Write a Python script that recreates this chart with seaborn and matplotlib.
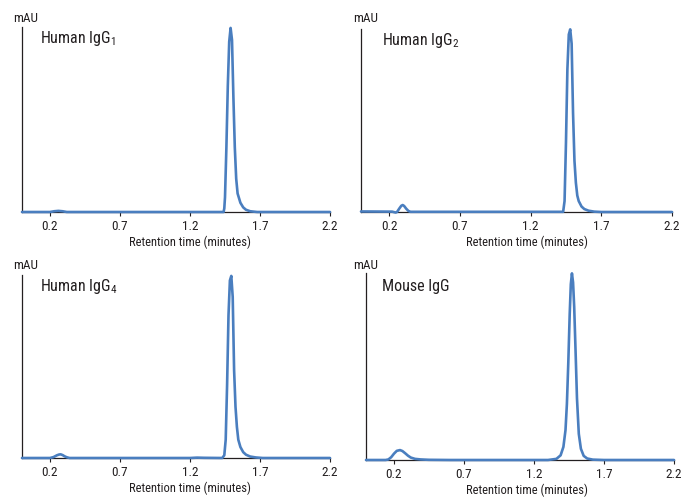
import numpy as np
import pandas as pd
import matplotlib
matplotlib.use("Agg")
import matplotlib.pyplot as plt
from matplotlib import font_manager
import seaborn as sns

# ---------------- data ----------------
titles = ["Human IgG$_1$", "Human IgG$_2$", "Human IgG$_4$", "Mouse IgG"]
tick_values = [0.2, 0.7, 1.2, 1.7, 2.2]
tick_labels = ["0.2", "0.7", "1.2", "1.7", "2.2"]

t_igg1 = [0.00, 0.20, 0.23, 0.26, 0.29, 0.32, 1.40, 1.44, 1.445, 1.45, 1.46, 1.47, 1.48,
          1.49, 1.50, 1.51, 1.52, 1.53, 1.54, 1.56, 1.58, 1.60, 1.63, 1.68, 2.20]
y_igg1 = [0.0, 0.0, 0.4, 0.6, 0.4, 0.0, 0.0, 0.0, 2.0, 8, 35, 68, 92,
          99.5, 93, 62, 35, 18, 10, 5, 2.5, 1.2, 0.4, 0.0, 0.0]

t_igg2 = [0.00, 0.22, 0.245, 0.255, 0.27, 0.285, 0.295, 0.305, 0.32, 0.335, 0.35, 1.40,
          1.43, 1.44, 1.45, 1.46, 1.47, 1.48, 1.49, 1.50, 1.51, 1.52, 1.53, 1.54, 1.56,
          1.58, 1.61, 1.65, 1.70, 2.20]
y_igg2 = [0.3, 0.2, -0.3, 0.0, 1.8, 3.4, 3.8, 3.3, 1.8, 0.6, 0.1, 0.1,
          0.1, 6, 38, 78, 97, 99.8, 92, 54, 28, 16, 9, 6, 3,
          1.6, 0.7, 0.2, 0.0, 0.0]

t_igg4 = [0.00, 0.20, 0.225, 0.25, 0.265, 0.276, 0.29, 0.305, 0.32, 0.34, 1.20, 1.25, 1.30,
          1.43, 1.445, 1.455, 1.465, 1.475, 1.485, 1.495, 1.505, 1.515, 1.525, 1.535,
          1.545, 1.56, 1.58, 1.60, 1.63, 1.67, 1.72, 2.20]
y_igg4 = [0.0, 0.0, 0.5, 1.5, 1.9, 2.0, 1.6, 0.9, 0.4, 0.0, 0.0, 0.2, 0.1,
          0.0, 1.5, 10, 40, 78, 97, 99.5, 88, 48, 28, 17,
          10, 6, 3.2, 1.8, 0.8, 0.3, 0.0, 0.0]

t_mouse = [0.00, 0.14, 0.16, 0.18, 0.20, 0.22, 0.243, 0.26, 0.28, 0.30, 0.32, 0.35, 0.39,
           0.45, 0.60, 1.30, 1.36, 1.39, 1.41, 1.425, 1.435, 1.445, 1.455, 1.463, 1.471,
           1.479, 1.487, 1.497, 1.507, 1.52, 1.535, 1.555, 1.58, 1.62, 1.70, 2.20]
y_mouse = [0.0, 0.0, 0.3, 1.5, 3.4, 4.9, 5.3, 4.8, 3.6, 2.3, 1.3, 0.6, 0.3,
           0.1, 0.0, 0.0, 0.6, 2.5, 7, 16, 30, 52, 78, 94, 99.8,
           95, 82, 58, 33, 14, 6, 2.2, 0.8, 0.2, 0.0, 0.0]

series_t = [t_igg1, t_igg2, t_igg4, t_mouse]
series_y = [y_igg1, y_igg2, y_igg4, y_mouse]

# ---------------- styling ----------------
sns.set_style("white")
available = {f.name for f in font_manager.fontManager.ttflist}
fam = None
for cand in ["Liberation Sans Narrow", "Roboto Condensed", "Open Sans Condensed",
             "DejaVu Sans Condensed", "Roboto", "Liberation Sans"]:
    if cand in available:
        fam = cand
        break
fams = [fam, "DejaVu Sans"] if fam else ["DejaVu Sans"]
plt.rcParams["font.family"] = fams
plt.rcParams["mathtext.fontset"] = "custom"
plt.rcParams["mathtext.rm"] = fams[0]
plt.rcParams["mathtext.it"] = fams[0]
plt.rcParams["mathtext.default"] = "rm"

LINE = "#4a7ebf"
TXT = "#231f20"
W, H = 693, 498
fig = plt.figure(figsize=(W / 100, H / 100), dpi=100)

# axes boxes in pixels: left, right, top, bottom
boxes = [(22, 330, 27, 212), (361, 672, 29, 212), (22, 330, 275, 458), (366, 674, 273, 460)]
xlabel_frac = [0.545, 0.534, 0.545, 0.521]
title_pos = [(40, 36), (381.5, 38), (40, 283.5), (381.5, 285)]
mau_pos = [(25.5, 16.5), (366, 16.5), (25.5, 263.5), (366, 264)]

for i in range(4):
    l, r, t, b = boxes[i]
    ax = fig.add_axes([l / W, 1 - b / H, (r - l) / W, (b - t) / H])
    df = pd.DataFrame({"time": series_t[i], "mAU": series_y[i]})
    sns.lineplot(data=df, x="time", y="mAU", ax=ax, color=LINE, linewidth=1.9,
                 clip_on=False, zorder=5)
    ax.set_xlim(0, 2.2)
    ax.set_ylim(0, 100)
    ax.set_yticks([])
    ax.set_xticks(tick_values)
    ax.set_xticklabels(tick_labels)
    ax.tick_params(axis="x", direction="out", length=3, width=0.8, color=TXT,
                   labelsize=9.5, labelcolor=TXT, pad=3, bottom=True)
    for s in ["top", "right"]:
        ax.spines[s].set_visible(False)
    for s in ["left", "bottom"]:
        ax.spines[s].set_color(TXT)
        ax.spines[s].set_linewidth(0.9)
    ax.set_ylabel("")
    ax.set_xlabel("Retention time (minutes)", fontsize=9, color=TXT)
    ax.xaxis.set_label_coords(xlabel_frac[i], -30 / (b - t))
    ax.xaxis.label.set_va("center")
    tx, ty = title_pos[i]
    fig.text(tx / W, 1 - ty / H, titles[i], fontsize=11.5, color=TXT,
             ha="left", va="center_baseline")
    mx, my = mau_pos[i]
    fig.text(mx / W, 1 - my / H, "mAU", fontsize=9.5, color=TXT,
             ha="center", va="center_baseline")

fig.savefig("out.png", dpi=100)
